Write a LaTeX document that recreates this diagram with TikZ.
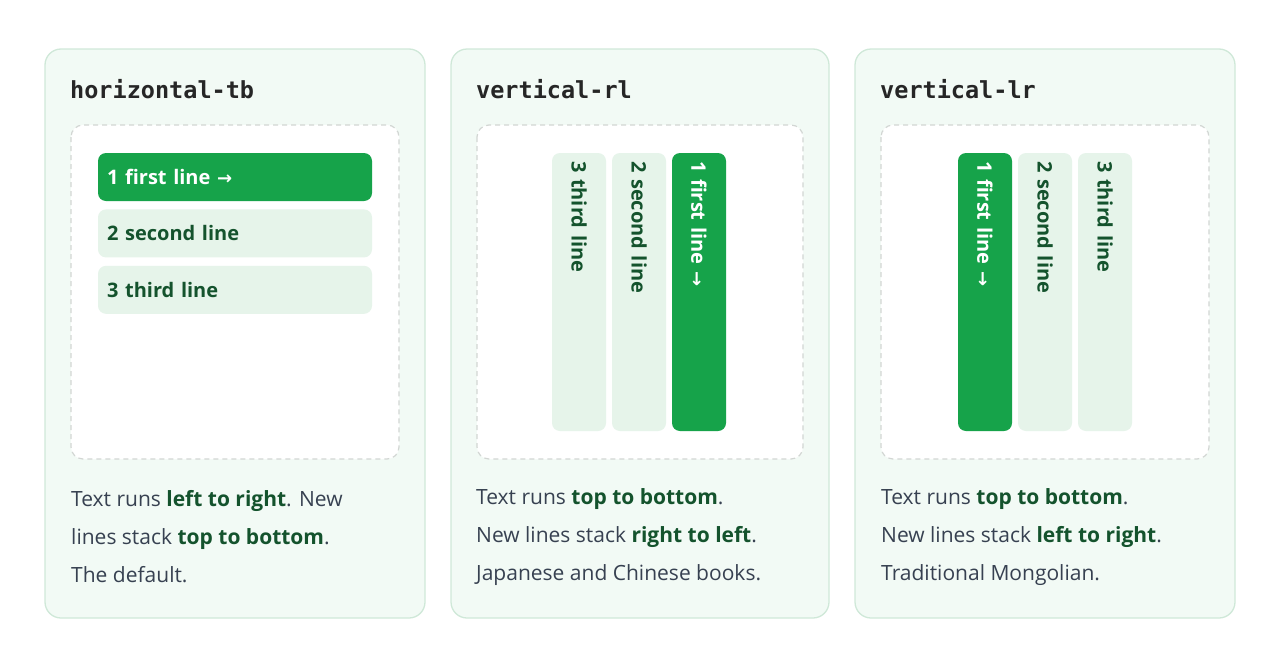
\documentclass[tikz,border=0pt]{standalone}
\usepackage{fontspec}
\setmainfont{Open Sans}
\newfontfamily\monob{DejaVu Sans Mono}
\newfontfamily\arrowfont{DejaVu Sans}
\usetikzlibrary{positioning}
\definecolor{cardfill}{HTML}{F2FAF5}
\definecolor{cardline}{HTML}{CFE8D8}
\definecolor{dashline}{HTML}{D2D6D3}
\definecolor{barfirst}{HTML}{16A34A}
\definecolor{barrest}{HTML}{E6F4EA}
\definecolor{bartext}{HTML}{14532D}
\definecolor{desctext}{HTML}{374151}
\newcommand{\rarr}{{\arrowfont\fontsize{18}{20}\selectfont →}}
\newcommand{\hl}[1]{\textbf{\color{bartext}#1}}
\tikzset{
  card/.style={draw=cardline, line width=1.3pt, fill=cardfill, rounded corners=16pt},
  stage/.style={draw=dashline, line width=1.2pt, dash pattern=on 5pt off 4pt, fill=white, rounded corners=12pt},
  title/.style={anchor=base west, inner sep=0pt, font=\monob\bfseries\fontsize{23.5}{26}\selectfont, text=black!85},
  hbar/.style={rounded corners=8pt, minimum width=274pt, minimum height=48pt, text width=256pt,
    align=left, inner sep=0pt, font=\bfseries\fontsize{20}{24}\selectfont},
  vbar/.style={hbar, rotate=-90, minimum width=278pt, minimum height=54pt, text width=262pt},
  first/.style={fill=barfirst, text=white},
  rest/.style={fill=barrest, text=bartext},
  desc/.style={anchor=west, align=left, text=desctext, font=\fontsize{21}{38}\selectfont, inner sep=0pt}
}
\begin{document}
\begin{tikzpicture}[x=1pt,y=-1pt]
  \useasboundingbox (0,0) rectangle (1280,672);
  % horizontal-tb
  \draw[card] (45,49) rectangle (425,618);
  \node[title] (t1) at (70,98) {horizontal-tb};
  \draw[stage] (71,125) rectangle (399,459);
  \node[hbar, first] (h1) at (235,177) {1 first line \rarr};
  \node[hbar, rest, below=8pt of h1] (h2) {2 second line};
  \node[hbar, rest, below=8pt of h2] (h3) {3 third line};
  \node[desc] (d1) at (71,537) {Text runs \hl{left to right}. New\\lines stack \hl{top to bottom}.\\The default.};
  % vertical-rl
  \draw[card] (451,49) rectangle (829,618);
  \node[title] (t2) at (476,98) {vertical-rl};
  \draw[stage] (477,125) rectangle (803,459);
  \node[vbar, first] (r1) at (699,292) {1 first line \rarr};
  \node[vbar, rest] (r2) at (639,292) {2 second line};
  \node[vbar, rest] (r3) at (579,292) {3 third line};
  \node[desc] (d2) at (476,537) {Text runs \hl{top to bottom}.\\New lines stack \hl{right to left}.\\Japanese and Chinese books.};
  % vertical-lr
  \draw[card] (855,49) rectangle (1235,618);
  \node[title] (t3) at (880,98) {vertical-lr};
  \draw[stage] (881,125) rectangle (1209,459);
  \node[vbar, first] (l1) at (985,292) {1 first line \rarr};
  \node[vbar, rest] (l2) at (1045,292) {2 second line};
  \node[vbar, rest] (l3) at (1105,292) {3 third line};
  \node[desc] (d3) at (881,537) {Text runs \hl{top to bottom}.\\New lines stack \hl{left to right}.\\Traditional Mongolian.};
\end{tikzpicture}
\end{document}
